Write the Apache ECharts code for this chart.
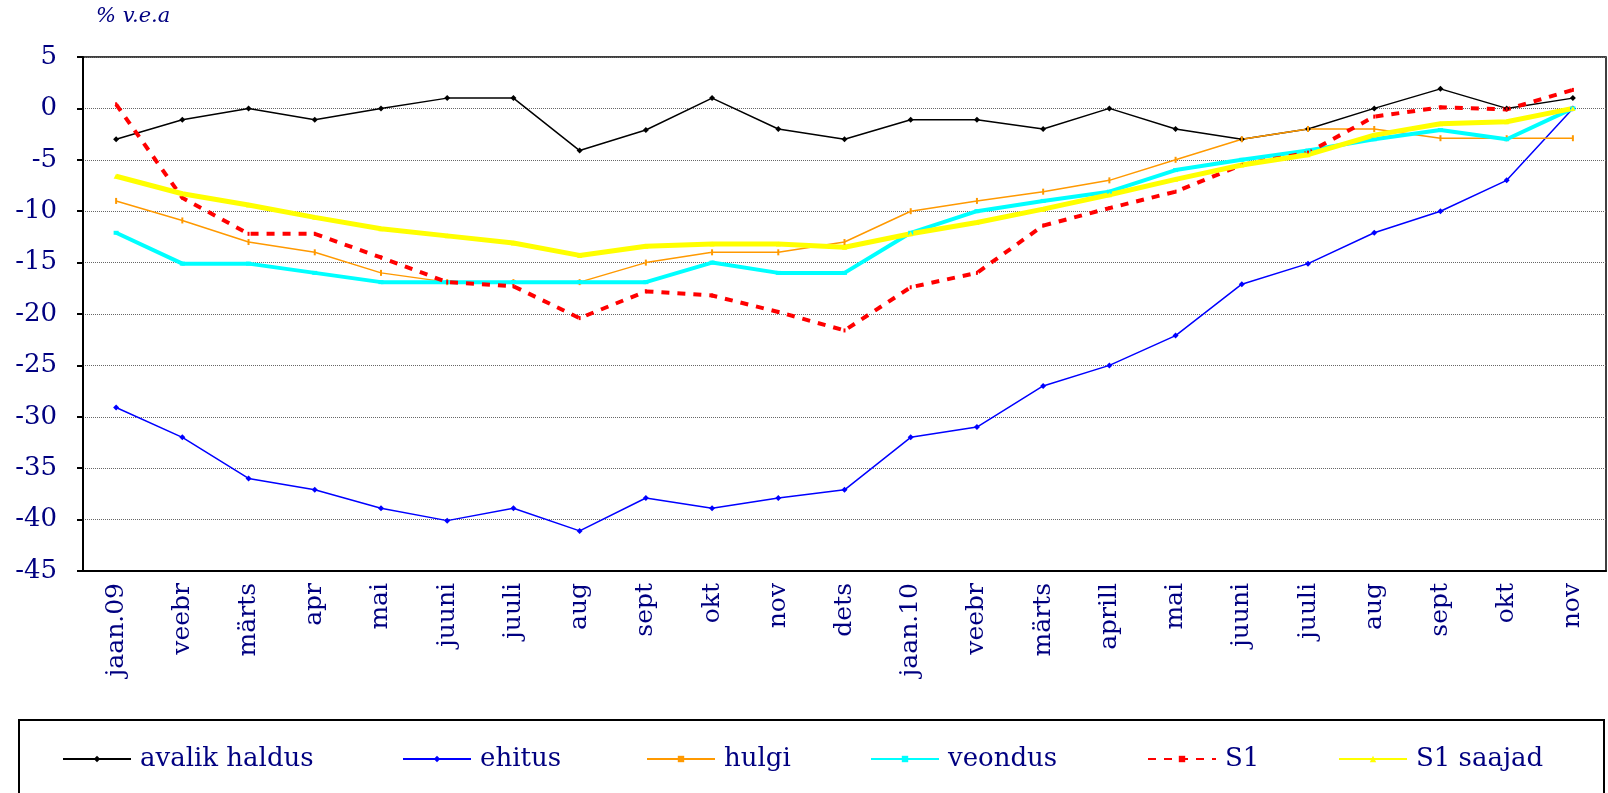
<!DOCTYPE html>
<html>
<head>
<meta charset="utf-8">
<script src="https://cdn.jsdelivr.net/npm/echarts@6/dist/echarts.min.js"></script>
<style>
	html, body { margin: 0; padding: 0; background: #fff; }
	#chart { width: 1608px; height: 793px; }
</style>
</head>
<body>
<div id="chart"></div>
<script>
// kuud
var months = ["jaan.09", "veebr", "märts", "apr", "mai", "juuni", "juuli", "aug", "sept", "okt", "nov", "dets",
	"jaan.10", "veebr", "märts", "aprill", "mai", "juuni", "juuli", "aug", "sept", "okt", "nov"];

var avalikHaldus = [-3, -1.1, 0, -1.1, 0, 1, 1, -4.1, -2.1, 1, -2, -3, -1.1, -1.1, -2, 0, -2, -3, -2, 0, 1.9, 0, 1];
var ehitus = [-29.1, -32, -36, -37.1, -38.9, -40.1, -38.9, -41.1, -37.9, -38.9, -37.9, -37.1, -32, -31, -27, -25, -22.1, -17.1, -15.1, -12.1, -10, -7, 0];
var hulgi = [-9, -10.9, -13, -14, -16, -16.9, -16.9, -16.9, -15, -14, -14, -13, -10, -9, -8.1, -7, -5, -3, -2, -2, -2.9, -2.9, -2.9];
var veondus = [-12.1, -15.1, -15.1, -16, -16.9, -16.9, -16.9, -16.9, -16.9, -15, -16, -16, -12.1, -10, -9, -8.1, -6, -5, -4.1, -3, -2.1, -3, 0];
var s1 = [0.4, -8.7, -12.2, -12.2, -14.5, -16.9, -17.3, -20.4, -17.8, -18.2, -19.8, -21.6, -17.4, -16, -11.4, -9.7, -8.1, -5.5, -4.3, -0.8, 0.1, -0.1, 1.8];
var s1Saajad = [-6.6, -8.3, -9.4, -10.6, -11.7, -12.4, -13.1, -14.3, -13.4, -13.2, -13.2, -13.5, -12.2, -11.1, -9.8, -8.4, -6.9, -5.5, -4.5, -2.6, -1.5, -1.3, 0];

var yTicks = { min: -45, max: 5, step: 5 };

var navy = "#000080";
var serif = "DejaVu Serif";

var chart = echarts.init(document.getElementById("chart"));

function makeLegend(name, left) {
	return {
		data: [name],
		left: left,
		top: 746,
		padding: 0,
		itemWidth: 68,
		itemHeight: 8,
		textStyle: {
			fontFamily: serif,
			fontSize: 26,
			color: navy,
			padding: [0, 0, 0, 4]
		}
	};
}

function lineSeries(name, data, color, width, symbol, symbolSize, dash) {
	return {
		name: name,
		type: "line",
		data: data,
		animation: false,
		symbol: symbol,
		symbolSize: symbolSize,
		lineStyle: {
			color: color,
			width: width,
			type: dash || "solid"
		},
		itemStyle: {
			color: color
		}
	};
}

var option = {
	backgroundColor: "#fff",
	graphic: [
		{
			type: "text",
			left: 96,
			top: 6,
			style: {
				text: "% v.e.a",
				fontFamily: serif,
				fontStyle: "italic",
				fontSize: 21,
				fill: navy
			}
		},
		{
			type: "rect",
			shape: { x: 19, y: 720, width: 1585, height: 100 },
			style: { fill: "none", stroke: "#000", lineWidth: 2 }
		}
	],
	legend: [
		makeLegend("avalik haldus", 62),
		makeLegend("ehitus", 402),
		makeLegend("hulgi", 646),
		makeLegend("veondus", 870),
		makeLegend("S1", 1147),
		makeLegend("S1 saajad", 1338)
	],
	grid: {
		left: 83,
		right: 2,
		top: 57,
		bottom: 222,
		show: true,
		borderColor: "#000",
		borderWidth: 1.5
	},
	xAxis: {
		type: "category",
		data: months,
		boundaryGap: true,
		axisLine: { onZero: false, lineStyle: { color: "#000", width: 2 } },
		axisTick: { length: 10, lineStyle: { color: "#000", width: 2 } },
		axisLabel: {
			rotate: 90,
			margin: 12,
			interval: 0,
			fontFamily: serif,
			fontSize: 25,
			color: navy
		}
	},
	yAxis: {
		type: "value",
		min: yTicks.min,
		max: yTicks.max,
		interval: yTicks.step,
		axisLine: { show: true, lineStyle: { color: "#000", width: 2 } },
		axisTick: { show: true, length: 6, lineStyle: { color: "#000", width: 2 } },
		axisLabel: {
			margin: 26,
			fontFamily: serif,
			fontSize: 26,
			color: navy
		},
		splitLine: {
			show: true,
			lineStyle: { color: "#666", width: 1, type: "dotted" }
		}
	},
	series: [
		lineSeries("avalik haldus", avalikHaldus, "#000000", 1.5, "diamond", 6),
		lineSeries("ehitus", ehitus, "#0000ff", 1.5, "diamond", 6),
		lineSeries("hulgi", hulgi, "#ff9900", 1.5, "rect", [2, 6]),
		lineSeries("veondus", veondus, "#00ffff", 4, "rect", [5, 4]),
		lineSeries("S1", s1, "#ff0000", 4, "rect", [2, 4], [8, 8]),
		lineSeries("S1 saajad", s1Saajad, "#ffff00", 5, "triangle", 5)
	]
};

chart.setOption(option);
</script>
</body>
</html>
